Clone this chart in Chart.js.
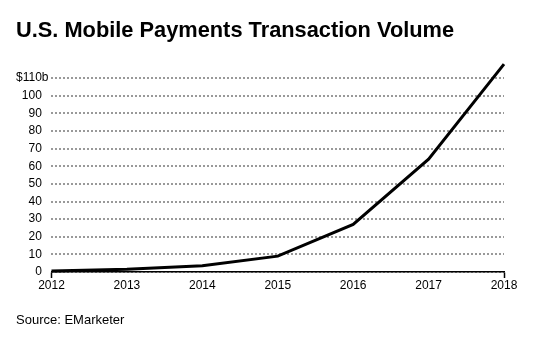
<!DOCTYPE html>
<html>
<head>
<meta charset="utf-8">
<script src="https://cdn.jsdelivr.net/npm/chart.js@4/dist/chart.umd.min.js"></script>
<style>
  html, body { margin: 0; padding: 0; background: #fff; }
  #chart { display: block; }
</style>
</head>
<body>
<canvas id="chart" width="540" height="338"></canvas>
<script>
// transaction volume, billions of dollars
const years = ['2012', '2013', '2014', '2015', '2016', '2017', '2018'];
const volume = [0.6, 1.5, 3.5, 9, 27, 64, 118];
const yTicks = [0, 10, 20, 30, 40, 50, 60, 70, 80, 90, 100, 110];

const FONT = '"Liberation Sans", Arial, Helvetica, sans-serif';

const ctx = document.getElementById('chart');
const chart = new Chart(ctx, {
  type: 'line',
  data: {
    labels: years,
    datasets: [{
      data: volume,
      borderColor: '#000',
      borderWidth: 3,
      pointRadius: 0,
      tension: 0,
      clip: false,
    }],
  },
  options: {
    responsive: false,
    animation: false,
    layout: {
      padding: { top: 0, bottom: 6, left: 16, right: 36 },
    },
    scales: {
      y: {
        min: 0,
        max: 110,
        afterBuildTicks: (axis) => {
          axis.ticks = yTicks.map((v) => ({ value: v }));
        },
        afterFit: (axis) => {
          axis.width -= 3;
        },
        // dotted grid lines, no axis line
        border: { display: false, dash: [2, 2] },
        grid: {
          color: '#999',
          lineWidth: 2,
          drawTicks: false,
        },
        ticks: {
          color: '#000',
          padding: 3,
          font: { family: FONT, size: 12 },
          // trailing spaces keep the numbers aligned with "$110" in "$110b"
          callback: (value) => (value === 110 ? '$110b' : value + '  '),
        },
      },
      x: {
        border: { display: true, color: '#000', width: 1.5 },
        grid: {
          drawOnChartArea: false,
          drawTicks: true,
          tickLength: 6,
          tickWidth: 1.5,
          tickColor: (c) => (c.index === 0 || c.index === years.length - 1 ? '#000' : 'rgba(0,0,0,0)'),
        },
        ticks: {
          color: '#000',
          padding: 0,
          maxRotation: 0,
          font: { family: FONT, size: 12 },
        },
      },
    },
    plugins: {
      legend: { display: false },
      tooltip: { enabled: false },
      title: {
        display: true,
        text: 'U.S. Mobile Payments Transaction Volume',
        align: 'start',
        color: '#000',
        font: { family: FONT, size: 21.8, weight: 'bold' },
        padding: { top: 18, bottom: 34 },
      },
      subtitle: {
        display: true,
        position: 'bottom',
        text: 'Source: EMarketer',
        align: 'start',
        color: '#000',
        font: { family: FONT, size: 13 },
        padding: { top: 20, bottom: 4 },
      },
    },
  },
});
</script>
</body>
</html>
